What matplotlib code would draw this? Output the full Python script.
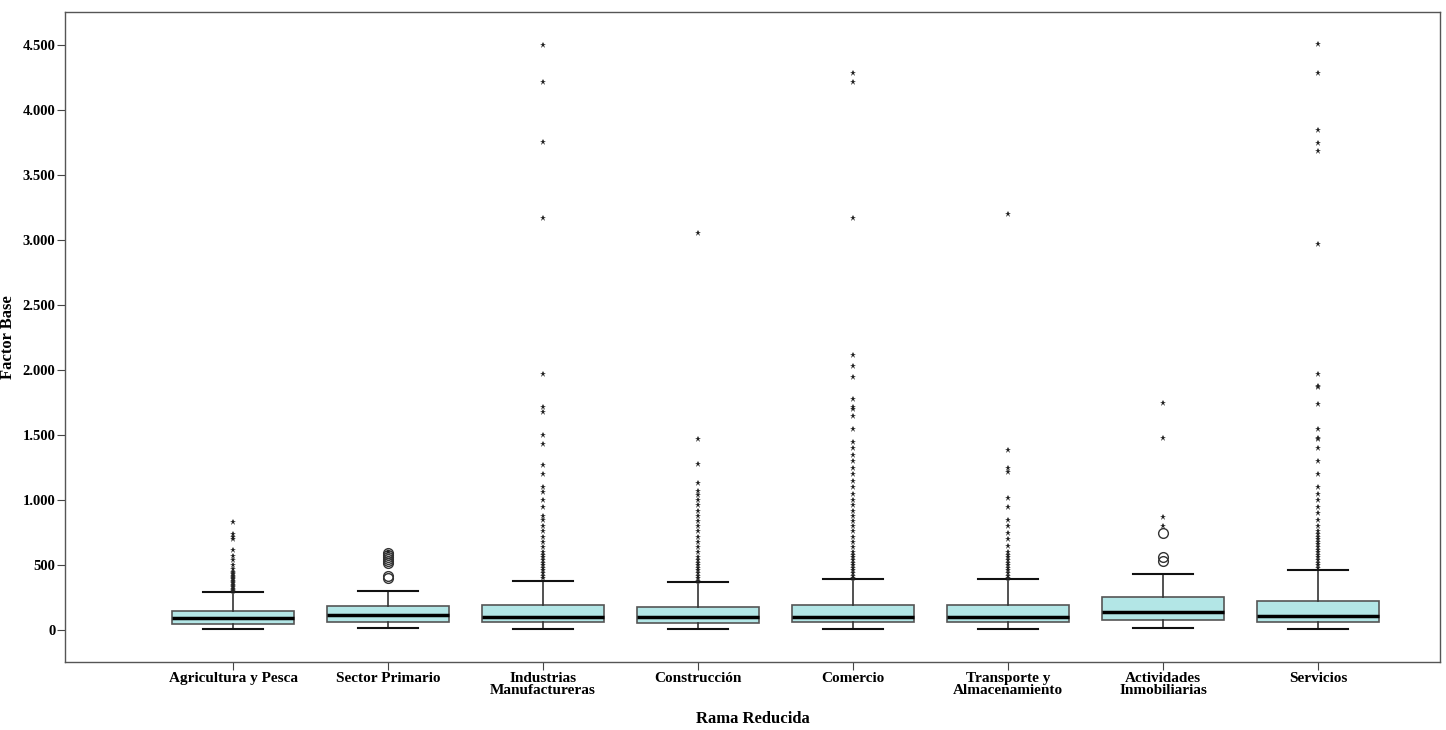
import matplotlib
matplotlib.use("Agg")
import matplotlib.pyplot as plt
from matplotlib.ticker import FuncFormatter

categories = ["Agricultura y Pesca", "Sector Primario", "Industrias\nManufactureras", "Construcción",
              "Comercio", "Transporte y\nAlmacenamiento", "Actividades\nInmobiliarias", "Servicios"]
whislo = [8, 15, 12, 12, 12, 12, 20, 12]
q1 = [45, 60, 60, 55, 60, 60, 75, 60]
med = [90, 115, 100, 100, 100, 100, 140, 110]
q3 = [145, 185, 190, 180, 195, 195, 255, 225]
whishi = [290, 305, 380, 370, 395, 390, 430, 465]

circles = [
    [],
    [400, 420, 520, 535, 550, 560, 575, 590],
    [], [], [], [],
    [530, 560, 750],
    [],
]
stars = [
    [300, 310, 320, 330, 340, 350, 360, 370, 380, 390, 400, 410, 420, 430, 440, 450, 470, 500, 540, 570, 620, 700, 720, 740, 830],
    [600],
    [400, 420, 440, 460, 480, 500, 520, 540, 560, 580, 600, 640, 680, 720, 760, 800, 850, 880, 950, 1000, 1060, 1100, 1200, 1270, 1430, 1500, 1680, 1720, 1970, 3170, 3760, 4220, 4500],
    [380, 400, 420, 440, 460, 480, 500, 520, 540, 560, 600, 640, 680, 720, 760, 800, 840, 880, 920, 960, 1000, 1040, 1070, 1130, 1280, 1470, 3060],
    [400, 420, 440, 460, 480, 500, 520, 540, 560, 580, 600, 640, 680, 720, 760, 800, 840, 880, 920, 960, 1000, 1050, 1100, 1150, 1200, 1250, 1300, 1350, 1400, 1450, 1550, 1650, 1700, 1720, 1780, 1950, 2030, 2120, 3170, 4220, 4290],
    [400, 420, 440, 460, 480, 500, 520, 540, 560, 580, 600, 650, 700, 750, 800, 850, 950, 1020, 1220, 1250, 1390, 3200],
    [800, 870, 1480, 1750],
    [480, 500, 520, 540, 560, 580, 600, 620, 640, 660, 680, 700, 720, 740, 760, 800, 850, 900, 950, 1000, 1050, 1100, 1200, 1300, 1400, 1470, 1480, 1550, 1740, 1870, 1880, 1970, 2970, 3690, 3750, 3850, 4290, 4510],
]
yticks = [0, 500, 1000, 1500, 2000, 2500, 3000, 3500, 4000, 4500]

plt.rcParams['font.family'] = ['Liberation Serif', 'DejaVu Serif']
fig = plt.figure(figsize=(14.46, 7.30), dpi=100)
ax = fig.add_axes([0.045, 0.093, 0.951, 0.890])

stats = []
for i, c in enumerate(categories):
    stats.append(dict(label=c, whislo=whislo[i], q1=q1[i], med=med[i], q3=q3[i], whishi=whishi[i], fliers=[]))
pos = list(range(len(categories)))
ax.bxp(stats, positions=pos, widths=0.79, patch_artist=True, showfliers=False,
       boxprops=dict(facecolor="#b3e6e6", edgecolor="#555555", linewidth=1.2),
       medianprops=dict(color="black", linewidth=2.5),
       whiskerprops=dict(color="#333333", linewidth=1.2),
       capprops=dict(color="#111111", linewidth=1.5), capwidths=0.39)
for i in pos:
    if circles[i]:
        ax.plot([i]*len(circles[i]), circles[i], linestyle="none", marker="o", mfc="none", mec="#333333", ms=7, mew=1)
    if stars[i]:
        ax.plot([i]*len(stars[i]), stars[i], linestyle="none", marker="*", color="#222222", ms=5, mew=0)

ax.set_xlim(-1.084, 7.787)
ax.set_ylim(-246, 4754)
ax.set_yticks(yticks)
ax.yaxis.set_major_formatter(FuncFormatter(lambda v, p: f"{int(v):,}".replace(",", ".")))
ax.set_xticks(pos)
ax.set_xticklabels(categories, fontweight="bold", fontsize=11, linespacing=0.95)
for t in ax.get_yticklabels():
    t.set_fontweight("bold"); t.set_fontsize(10.5)
ax.tick_params(axis="both", length=6, color="#444444", pad=1)
for s in ax.spines.values():
    s.set_linewidth(1.0); s.set_color("#555555")
ax.set_xlabel("Rama Reducida", fontweight="bold", fontsize=12, labelpad=10)
ax.set_ylabel("Factor Base", fontweight="bold", fontsize=12)
ax.yaxis.set_label_coords(-0.036, 0.5)
fig.savefig("out.png", dpi=100)
